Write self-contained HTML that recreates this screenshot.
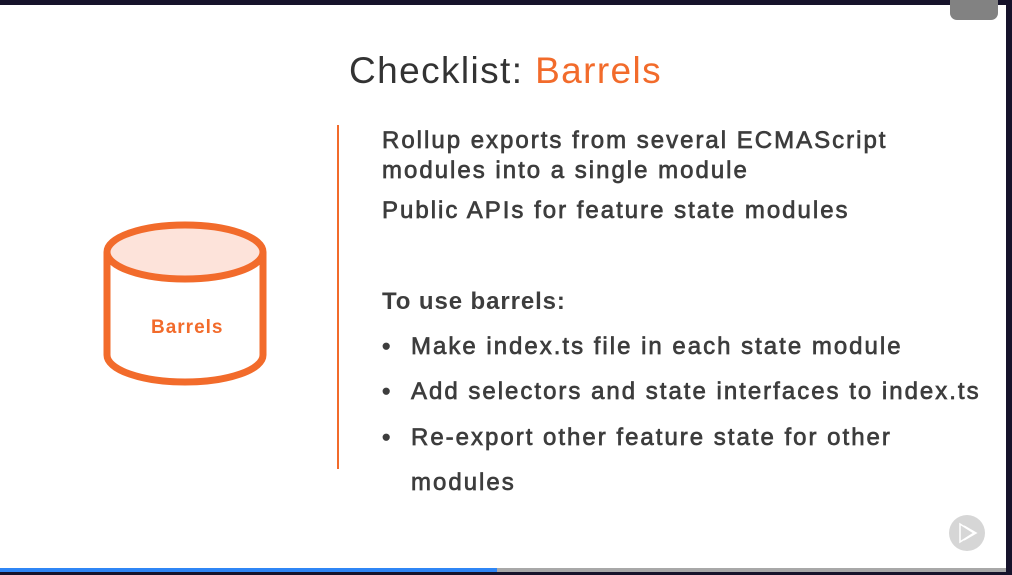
<!DOCTYPE html>
<html><head><style>
body{margin:0;width:1012px;height:575px;background:#fff;position:relative;overflow:hidden;font-family:"Liberation Sans",sans-serif}
.t{position:absolute;color:#3d3d3d;font-size:24px;-webkit-text-stroke:0.7px #3d3d3d;white-space:nowrap;letter-spacing:2px}
</style></head><body>
<div style="position:absolute;left:0;top:0;width:1012px;height:5px;background:#16132b"></div>
<div style="position:absolute;left:1006px;top:0;width:6px;height:575px;background:#16132b"></div>
<div style="position:absolute;left:950px;top:0;width:48px;height:20px;background:#828282;border-radius:0 0 7px 7px"></div>
<div style="position:absolute;left:0;top:568px;width:1006px;height:4px;background:#a8a8a8"></div>
<div style="position:absolute;left:0;top:568px;width:497px;height:4px;background:#2f86f5"></div>
<div style="position:absolute;left:0;top:572px;width:1012px;height:3px;background:#16132b"></div>
<div style="position:absolute;left:349px;top:50px;font-size:37px;color:#333;letter-spacing:1.4px">Checklist: <span style="color:#f26b2b">Barrels</span></div>
<div style="position:absolute;left:337px;top:125px;width:2px;height:344px;background:#f26b2b"></div>
<svg style="position:absolute;left:0;top:0" width="1012" height="575">
<path d="M107 252 V355 A78 27 0 0 0 263 355 V252" fill="#fff" stroke="#f26b2b" stroke-width="7"/>
<ellipse cx="185" cy="252" rx="78" ry="27" fill="#fde3da" stroke="#f26b2b" stroke-width="7"/>
<circle cx="967" cy="533" r="18" fill="#d6d6d6"/>
<path d="M960 524 L974 533 L960 542 Z M964 526 L976 533 L964 540" fill="none" stroke="#fff" stroke-width="1.5"/>
</svg>
<div style="position:absolute;left:151px;top:317px;font-size:19px;font-weight:bold;color:#f26b2b;letter-spacing:1px">Barrels</div>
<div class="t" style="left:382px;top:127px">Rollup exports from several ECMAScript</div>
<div class="t" style="left:382px;top:157px">modules into a single module</div>
<div class="t" style="left:382px;top:197px">Public APIs for feature state modules</div>
<div class="t" style="left:382px;top:288px;font-weight:bold;-webkit-text-stroke:0;letter-spacing:0.9px">To use barrels:</div>
<div class="t" style="left:382px;top:333px">•</div><div class="t" style="left:411px;top:333px">Make index.ts file in each state module</div>
<div class="t" style="left:382px;top:378px">•</div><div class="t" style="left:411px;top:378px">Add selectors and state interfaces to index.ts</div>
<div class="t" style="left:382px;top:424px">•</div><div class="t" style="left:411px;top:424px">Re-export other feature state for other</div>
<div class="t" style="left:411px;top:469px">modules</div>
</body></html>
